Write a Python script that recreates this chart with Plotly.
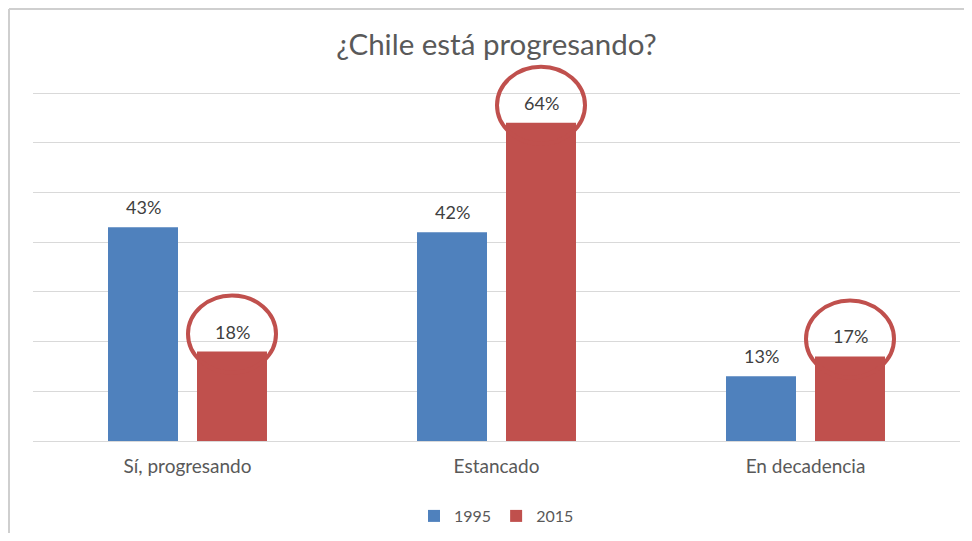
import plotly.graph_objects as go

categories = ["Sí, progresando", "Estancado", "En decadencia"]
values_1995 = [43, 42, 13]
values_2015 = [18, 64, 17]
series_names = ["1995", "2015"]
title_text = "¿Chile está progresando?"

BLUE = "#4f81bd"
RED = "#c0504d"
FONT = "Lato, Calibri, 'Open Sans', sans-serif"

# page body has an 8px default margin, so the figure is sized to fit the window
W, H = 956, 525
L, R, T, B = 25, 4, 47, 92
plot_h = H - T - B          # 386
px_per_unit = 348 / 70
y_max = plot_h / px_per_unit

fig = go.Figure()
fig.add_trace(go.Bar(name=series_names[0], x=categories, y=values_1995,
                     marker=dict(color=BLUE, line=dict(width=0))))
fig.add_trace(go.Bar(name=series_names[1], x=categories, y=values_2015,
                     marker=dict(color=RED, line=dict(width=0))))

annotations = []
shapes = []
half = 44.5
for i, c in enumerate(categories):
    for vals, sh in ((values_1995, -half), (values_2015, half)):
        annotations.append(dict(x=c, y=vals[i], xref="x", yref="y", text=f"{vals[i]}%",
                                showarrow=False, xshift=sh, yshift=20, yanchor="middle",
                                font=dict(family=FONT, size=18, color="#404040")))
    # red circle highlighting the 2015 label
    shapes.append(dict(type="circle", xref="x", yref="y", xsizemode="pixel", ysizemode="pixel",
                       xanchor=i, yanchor=values_2015[i],
                       x0=half - 44, x1=half + 44, y0=-21, y1=56,
                       line=dict(color=RED, width=4), layer="above"))

# chart frame (left and top edges)
pw = W - L - R
fx = (1 - L) / pw
fy_top = (H - B - 1) / plot_h
fy_bot = (H - B - H) / plot_h
shapes.append(dict(type="line", xref="paper", yref="paper", x0=fx, x1=1.01, y0=fy_top, y1=fy_top,
                   line=dict(color="#cfcfcf", width=2)))
shapes.append(dict(type="line", xref="paper", yref="paper", x0=fx, x1=fx, y0=fy_top, y1=fy_bot,
                   line=dict(color="#cfcfcf", width=2)))

fig.update_layout(
    width=W, height=H,
    margin=dict(l=L, r=R, t=T, b=B, autoexpand=False),
    paper_bgcolor="white", plot_bgcolor="white",
    barmode="group", bargap=0.424, bargroupgap=0.2135,
    title=dict(text=title_text, x=0.5, xref="paper", xanchor="center",
               y=1 - 37 / H, yref="container", yanchor="middle",
               font=dict(family=FONT, size=29.5, color="#595959")),
    legend=dict(orientation="h", x=0.5, xanchor="center", y=(H - B - 508) / plot_h, yanchor="middle",
                font=dict(family=FONT, size=16, color="#595959"), traceorder="normal"),
    annotations=annotations,
    shapes=shapes,
    xaxis=dict(showgrid=False, showline=True, linecolor="#d9d9d9", linewidth=1,
               tickfont=dict(family=FONT, size=19, color="#595959"), ticks="",
               ticklabelstandoff=8, automargin=False),
    yaxis=dict(range=[0, y_max], tickvals=[0, 10, 20, 30, 40, 50, 60, 70],
               showgrid=True, gridcolor="#d9d9d9", gridwidth=1,
               showticklabels=False, zeroline=False, fixedrange=True, automargin=False),
)

fig.write_html("out.html")
